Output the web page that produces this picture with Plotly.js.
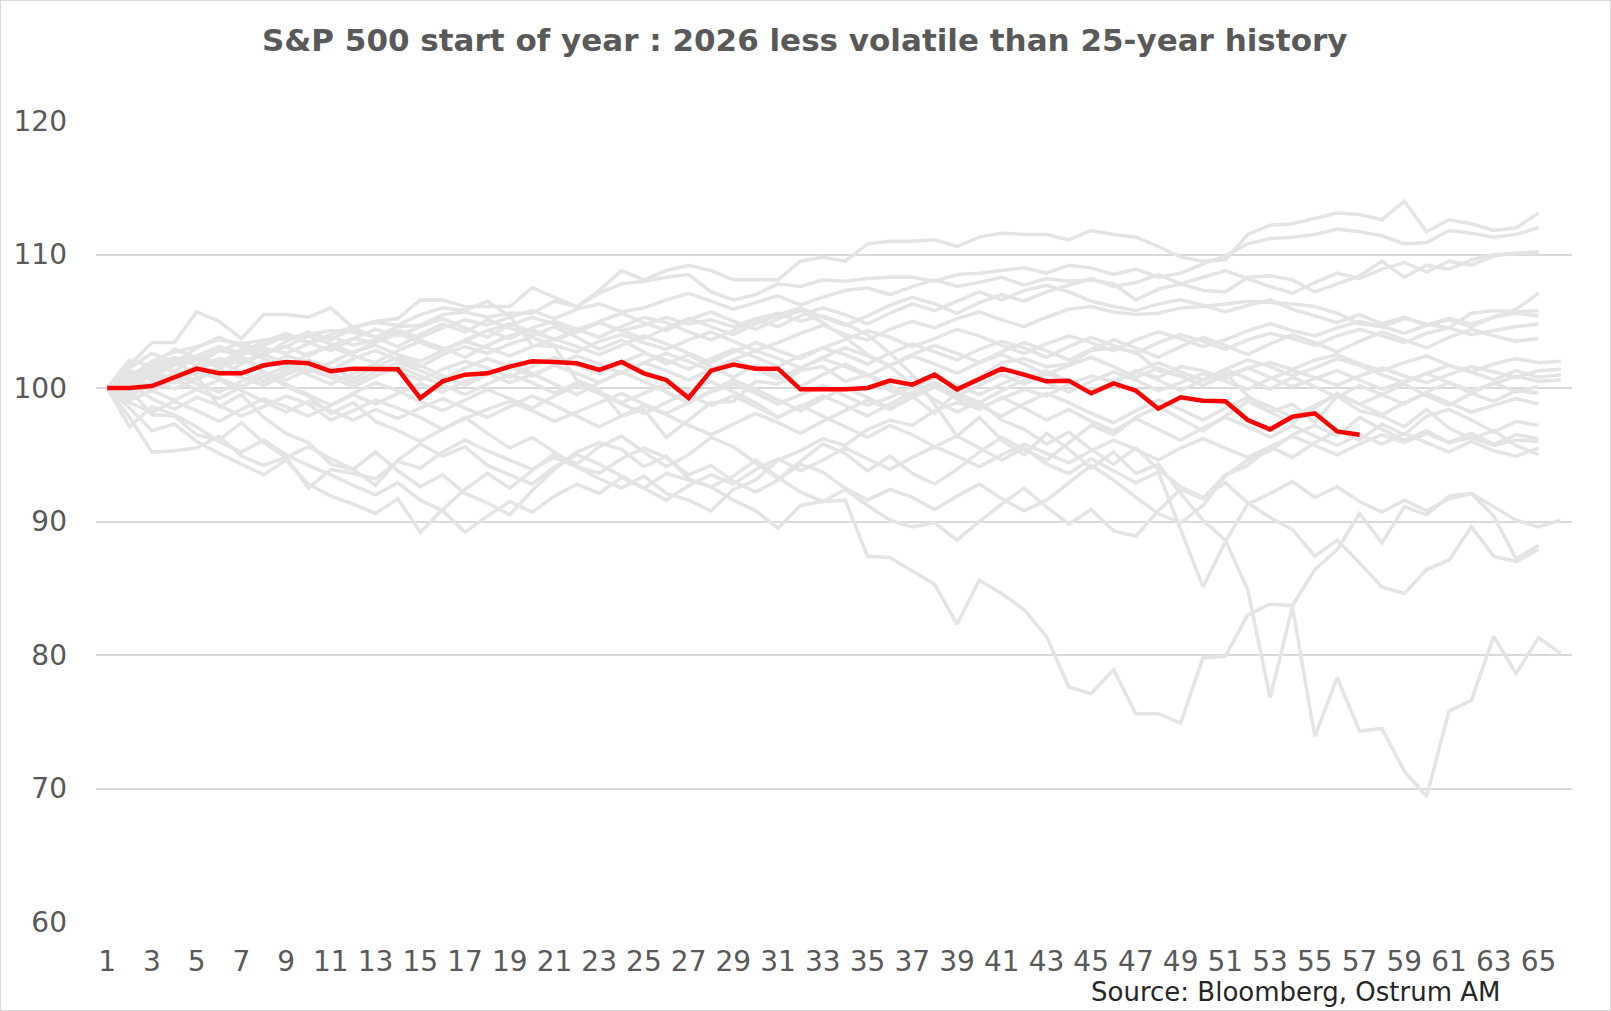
<!DOCTYPE html>
<html><head><meta charset="utf-8">
<script src="https://cdn.plot.ly/plotly-3.0.1.min.js"></script>
<style>html,body{margin:0;padding:0;background:#fff}#chart{width:1611px;height:1011px;box-sizing:border-box;border:1px solid #d9d9d9}</style>
</head><body><div id="chart"></div><script>
const days = [1,2,3,4,5,6,7,8,9,10,11,12,13,14,15,16,17,18,19,20,21,22,23,24,25,26,27,28,29,30,31,32,33,34,35,36,37,38,39,40,41,42,43,44,45,46,47,48,49,50,51,52,53,54,55,56,57,58,59,60,61,62,63,64,65,66];
const tickVals = [1,3,5,7,9,11,13,15,17,19,21,23,25,27,29,31,33,35,37,39,41,43,45,47,49,51,53,55,57,59,61,63,65];
const tickText = ['1','3','5','7','9','11','13','15','17','19','21','23','25','27','29','31','33','35','37','39','41','43','45','47','49','51','53','55','57','59','61','63','65'];
const yTicks = [60,70,80,90,100,110,120];

const y2026 = [100.0,100.0,100.15,100.8,101.45,101.1,101.1,101.7,101.95,101.85,101.25,101.45,101.4,101.4,99.25,100.5,101.0,101.1,101.6,102.0,101.95,101.85,101.35,101.95,101.1,100.6,99.25,101.3,101.75,101.45,101.45,99.9,99.9,99.9,100.0,100.55,100.25,101.0,99.9,100.65,101.45,101.0,100.5,100.55,99.6,100.35,99.8,98.45,99.3,99.05,99.0,97.6,96.9,97.85,98.1,96.75,96.5];

const path01 = [100,101.7,103.4,103.4,105.7,105.0,103.7,105.5,105.5,105.3,106.0,104.5,105.0,105.2,106.6,106.6,106.1,106.1,106.1,107.5,106.8,106.1,107.3,108.8,108.1,108.8,109.2,108.8,108.1,108.1,108.1,109.5,109.8,109.5,110.8,111.0,111.0,111.1,110.6,111.3,111.6,111.5,111.5,111.1,111.8,111.5,111.3,110.6,109.8,109.5,109.6,111.5,112.2,112.3,112.7,113.1,113.0,112.6,114.0,111.7,112.6,112.3,111.8,112.0,113.1];
const path02 = [100,100.8,102.0,102.7,103.1,103.6,103.3,103.6,103.7,104.0,104.3,104.2,103.8,104.6,104.7,105.5,105.7,105.3,105.6,105.6,106.5,106.1,107.1,107.8,108.0,108.3,108.5,107.2,106.6,107.0,107.8,107.6,108.1,108.0,108.2,108.3,108.3,108.0,108.5,108.6,108.8,109.0,108.6,109.2,109.0,108.5,108.9,108.3,108.6,109.3,109.9,110.8,111.2,111.3,111.5,111.9,111.7,111.4,110.8,110.9,111.8,111.6,111.3,111.5,112.0];
const path03 = [100,100.4,101.2,101.8,102.2,101.6,102.5,103.0,102.6,103.3,103.9,103.2,103.6,104.3,103.8,104.5,105.1,104.7,105.3,105.8,105.2,105.9,106.3,105.7,106.0,106.6,107.1,106.5,105.9,106.4,106.9,106.2,106.8,107.3,107.5,107.0,107.6,108.1,107.6,107.9,108.3,107.7,108.2,108.0,108.1,107.8,106.6,107.4,107.8,107.3,107.2,108.3,108.4,108.1,107.2,107.8,108.4,109.5,108.3,109.2,108.9,109.6,110.0,110.1,110.2];
const path04 = [100,101.1,100.6,101.9,102.4,101.8,102.9,102.2,101.5,102.6,103.1,102.4,101.9,102.8,103.5,103.0,102.3,103.2,103.9,104.4,103.6,104.2,104.9,104.3,103.7,104.5,105.2,104.6,104.0,104.8,105.5,106.0,105.3,104.7,105.4,106.2,106.8,106.3,105.6,106.4,107.0,106.5,107.2,107.7,108.2,107.6,107.9,108.5,107.8,108.3,108.8,108.2,107.6,107.1,107.9,108.6,108.2,108.9,109.4,108.7,109.5,109.2,109.9,110.1,110.1];
const path05 = [100,100.9,101.6,102.3,101.7,102.8,103.4,102.7,103.1,103.9,103.3,102.6,103.5,104.1,103.4,102.8,103.6,104.3,103.7,104.5,105.0,104.4,103.8,104.6,105.3,104.9,104.2,103.6,104.3,105.1,104.6,105.4,106.0,105.5,104.8,105.6,106.3,105.8,106.5,107.2,106.6,107.3,107.7,107.2,106.5,106.1,105.8,106.3,106.6,106.2,105.7,106.2,106.6,105.9,105.4,104.9,105.5,104.8,105.3,104.7,105.1,104.6,105.3,105.9,107.1];
const path06 = [100,99.4,100.3,101.1,100.6,101.5,102.1,101.6,102.4,102.0,101.3,102.2,102.8,102.1,101.6,102.5,103.1,102.6,103.3,103.8,103.2,102.7,103.5,104.0,103.4,102.9,103.6,104.2,103.5,102.8,103.4,104.1,104.7,104.0,103.6,104.4,105.0,104.5,105.2,105.7,105.1,104.6,105.3,105.9,106.1,105.7,105.5,105.6,106.0,106.1,106.3,106.5,106.4,106.3,106.1,105.6,104.8,104.6,105.2,104.8,104.5,105.6,105.8,105.7,105.8];
const path07 = [100,100.6,99.9,100.8,101.5,100.9,101.8,102.5,101.9,101.2,101.9,102.7,103.2,102.5,102.0,102.8,103.5,103.0,102.4,103.1,103.7,103.1,102.5,103.2,103.9,103.3,102.6,101.9,102.7,103.4,102.8,102.2,103.0,103.6,104.3,103.8,103.1,103.7,104.4,103.9,103.2,102.6,103.3,103.9,103.4,102.8,103.6,104.2,103.7,103.1,103.6,104.3,104.8,104.3,103.9,104.5,105.0,104.6,104.1,104.7,105.2,104.8,105.3,105.6,105.4];
const path08 = [100,100.2,101.0,100.4,101.2,100.7,100.1,100.9,101.6,101.0,100.3,101.1,101.8,101.2,100.6,101.4,102.0,101.5,100.8,101.6,102.3,101.7,101.1,101.9,102.6,102.1,101.4,102.2,102.9,102.3,101.6,102.4,103.0,102.5,101.8,102.6,103.3,102.7,102.1,102.9,103.5,103.0,102.3,103.1,103.8,103.2,102.6,103.4,104.0,103.5,102.9,103.6,104.1,103.7,103.2,103.9,104.4,103.9,103.4,104.1,104.5,104.0,104.3,104.6,104.8];
const path09 = [100,101.3,100.8,99.9,100.7,101.4,100.8,100.2,101.0,101.7,101.1,100.4,101.2,101.9,101.3,100.6,101.5,102.2,101.6,100.9,101.7,102.4,101.8,101.1,101.9,102.6,102.0,101.3,102.1,102.8,102.2,101.5,102.3,103.0,102.4,101.7,102.5,103.2,102.6,101.9,102.7,103.4,102.8,102.1,102.9,103.6,103.0,102.3,103.1,103.8,103.2,102.5,103.3,104.0,103.4,102.7,103.5,104.2,103.6,103.0,103.8,104.4,103.9,103.5,103.7];
const path10 = [100,97.8,95.2,95.3,95.5,96.4,94.9,94.2,94.8,92.5,93.9,93.6,93.2,94.5,94.0,95.2,96.1,95.3,94.6,93.9,94.8,94.1,93.2,92.5,93.4,92.1,91.6,90.8,92.4,93.1,94.6,95.3,96.2,95.7,96.9,97.6,97.2,98.3,98.9,98.5,99.2,99.9,99.4,100.3,100.9,100.5,101.2,100.8,101.6,101.3,100.7,101.5,101.9,101.4,102.1,102.5,101.8,101.3,101.9,102.4,101.7,101.2,101.8,102.2,101.9,102.0];
const path11 = [100,100.3,99.2,98.4,99.3,98.7,97.9,98.6,99.4,98.8,97.6,98.3,99.1,98.5,97.8,96.9,97.7,98.4,99.0,98.3,97.5,98.2,98.9,99.6,98.8,98.1,98.9,99.7,100.3,99.6,98.8,99.5,100.2,99.4,98.7,99.3,100.1,100.8,100.2,99.5,100.3,101.0,100.4,99.7,100.5,101.2,100.6,99.8,100.4,101.1,100.5,99.9,100.7,101.3,100.8,100.2,100.9,101.5,100.9,100.4,101.0,101.6,101.2,100.8,101.3,101.4];
const path12 = [100,99.1,99.8,100.6,99.9,99.2,100.1,100.9,100.3,99.5,98.7,99.6,100.4,99.8,99.0,98.3,99.1,99.9,99.2,98.5,99.4,100.2,99.6,98.8,98.1,98.9,99.8,100.5,99.7,98.9,97.8,98.6,99.4,98.7,97.9,98.8,99.7,100.4,99.6,98.9,99.8,100.6,101.3,100.5,99.7,100.4,101.2,101.9,101.2,100.6,101.4,102.1,101.6,100.9,101.5,102.2,101.7,101.0,100.4,101.1,101.7,101.2,100.6,101.3,100.8,101.0];
const path13 = [100,98.9,98.2,99.0,98.3,97.5,98.4,99.2,98.6,97.9,98.7,99.5,98.8,99.6,100.3,99.7,100.5,101.1,100.4,101.0,101.7,101.1,100.4,101.2,101.9,101.3,100.6,101.4,102.1,101.4,100.7,101.5,102.2,101.6,100.9,101.7,102.4,101.8,101.1,101.9,102.5,101.8,101.0,101.7,102.3,101.6,100.8,101.5,100.9,100.2,100.9,101.5,100.8,100.1,100.7,101.3,100.6,99.9,100.5,101.1,100.4,99.8,100.3,100.9,100.5,100.6];
const path14 = [100,98.5,96.8,97.3,96.0,95.1,94.3,93.5,94.6,92.8,91.9,91.3,90.6,91.7,89.2,90.9,92.4,93.6,92.5,93.8,95.1,94.3,95.6,96.4,95.2,94.1,95.0,96.3,95.6,94.4,93.2,94.5,95.8,95.1,93.8,94.9,93.6,92.8,93.9,95.2,96.3,95.4,94.6,95.9,97.2,96.5,97.8,98.6,97.7,96.8,97.9,99.0,98.2,97.4,98.5,99.6,98.8,99.5,100.3,99.4,98.7,99.6,100.4,99.7,100.1];
const path15 = [100,100.7,101.3,100.6,101.4,102.0,101.2,100.5,101.3,102.1,101.5,100.7,101.6,102.3,101.7,100.9,100.2,101.0,101.8,101.1,100.3,99.5,100.4,101.2,100.5,99.7,98.9,99.8,100.6,99.9,99.1,98.3,99.2,100.0,99.3,98.5,99.4,100.2,99.5,98.7,97.9,98.8,99.6,98.9,98.1,97.4,98.3,99.1,98.4,97.6,98.5,99.3,98.6,97.8,98.7,99.5,98.8,98.0,98.9,99.6,98.9,98.2,98.7,99.2,98.8];
const path16 = [100,99.9,98.0,97.9,96.5,96.1,97.4,95.9,94.8,95.6,94.7,93.9,95.2,93.8,92.6,93.5,92.1,91.4,90.5,92.3,93.9,95.2,95.9,95.4,94.1,94.9,93.2,92.6,93.4,94.6,93.3,92.2,91.5,92.4,91.2,90.1,89.6,89.9,88.6,90.0,91.3,92.5,91.1,89.8,90.9,89.3,88.9,90.8,92.4,91.7,93.5,94.2,95.6,94.8,95.9,96.8,96.1,97.3,96.5,97.9,98.4,97.6,96.7,97.5,97.2];
const path17 = [100,102.1,101.6,102.9,102.3,101.5,102.4,101.2,100.1,99.4,98.1,98.9,97.5,96.8,96.0,96.9,97.8,96.6,95.5,96.3,95.2,94.1,93.6,94.7,95.5,94.8,93.5,94.2,93.0,92.2,93.1,94.3,93.7,92.5,91.6,92.4,91.8,90.9,91.9,92.8,91.7,90.8,91.6,92.9,94.2,93.1,91.8,90.6,89.9,91.2,93.4,94.6,95.3,96.5,97.2,96.4,97.8,96.9,96.1,96.8,95.9,96.6,95.8,96.5,96.2];
const path18 = [100,101.5,102.6,101.9,103.0,103.8,103.1,102.4,103.5,104.2,103.6,104.5,103.8,103.1,104.0,104.8,104.2,105.1,104.5,103.9,104.6,103.8,102.9,103.6,102.7,101.8,102.5,101.6,100.8,101.7,100.9,100.1,101.0,101.8,101.0,100.2,99.3,100.1,99.2,98.4,99.3,98.5,97.6,98.4,97.5,96.8,97.7,96.9,96.1,97.0,97.8,97.1,96.3,97.2,96.4,95.7,96.5,95.8,96.6,95.9,95.2,96.0,95.3,94.9,95.5];
const path19 = [100,100.6,101.0,101.7,102.1,102.8,102.5,103.2,103.9,103.4,104.0,104.6,104.9,104.7,105.5,106.0,105.8,106.5,105.4,103.2,103.1,100.6,99.9,97.9,98.4,96.3,97.6,98.9,99.0,100.5,100.3,101.3,101.6,100.5,101.0,99.8,99.4,98.1,99.7,100.8,101.9,102.2,101.6,101.8,102.8,103.0,102.7,101.3,100.9,100.2,101.1,99.4,98.2,98.8,97.4,99.4,98.3,97.9,97.1,98.4,97.0,96.2,96.8,95.7,95.0];
const path20 = [100,99.2,101.4,102.1,100.9,98.6,99.5,97.8,96.6,95.9,94.3,93.9,92.7,94.6,95.8,94.9,95.6,94.2,93.5,92.8,94.1,95.0,94.3,93.4,92.5,93.6,93.1,92.6,91.6,90.8,89.5,91.2,91.5,91.6,87.4,87.3,86.3,85.3,82.3,85.6,84.6,83.4,81.4,77.6,77.1,78.9,75.6,75.6,74.9,79.8,79.9,83.0,83.8,83.7,86.4,87.9,90.6,88.4,91.1,90.5,91.9,92.1,91.1,90.1,89.6,90.1];
const path21 = [100,100.9,101.8,101.2,102.4,103.1,102.6,103.5,104.1,103.4,102.8,103.7,104.4,103.9,104.6,105.2,104.5,103.8,104.7,105.3,104.8,104.2,105.0,105.6,104.9,104.3,105.1,105.7,105.0,104.4,105.2,105.8,104.9,103.8,102.5,101.6,100.3,99.1,98.2,99.0,97.6,96.9,95.8,96.7,95.4,94.3,95.5,93.9,92.6,91.8,92.9,91.4,90.3,89.4,87.4,88.6,86.9,85.1,84.6,86.4,87.1,89.6,87.4,87.0,87.9];
const path22 = [100,99.6,100.4,101.0,100.3,99.7,100.5,101.2,100.6,101.4,100.8,100.1,100.9,101.6,100.9,100.2,99.5,100.3,101.0,100.4,99.6,100.4,99.7,98.9,99.6,100.3,99.5,98.7,99.4,98.6,97.8,98.7,97.9,97.1,96.3,97.2,96.5,95.6,96.4,95.5,94.6,95.5,94.3,93.6,94.7,93.8,92.9,93.7,89.4,85.1,88.5,91.3,92.1,93.0,91.8,92.6,91.5,90.7,91.6,90.8,91.7,92.1,90.4,87.2,88.2];
const path23 = [100,100.7,100.2,101.0,101.6,102.2,101.9,102.6,103.1,102.4,103.2,103.7,103.4,104.1,103.6,102.9,103.5,104.3,104.8,104.2,103.6,104.4,104.9,104.3,104.7,105.3,104.8,105.1,104.6,105.2,105.6,105.0,105.4,104.8,104.0,102.6,101.0,98.8,96.4,97.8,96.1,95.0,96.6,95.4,94.0,95.2,93.6,94.3,92.1,90.1,88.6,84.9,76.8,83.6,73.9,78.3,74.3,74.5,71.3,69.4,75.8,76.6,81.4,78.6,81.3,80.1];
const path24 = [100,100.5,99.8,99.1,99.9,100.6,99.8,99.0,98.2,99.0,98.3,97.6,98.4,97.7,98.5,99.2,98.5,97.8,98.6,99.4,98.7,97.9,97.1,97.9,98.7,98.0,97.2,96.5,97.3,98.1,97.4,96.6,97.5,98.3,99.1,98.4,99.3,100.1,99.4,100.2,101.0,100.3,101.1,100.4,99.6,100.5,101.3,100.6,99.8,100.6,101.4,100.7,99.9,100.8,100.1,99.3,100.2,99.5,98.8,99.7,100.4,99.6,99.0,99.8,99.6];
const path25 = [100,97.1,98.6,98.0,97.1,96.0,95.2,96.1,95.0,94.2,93.5,92.7,92.0,92.9,91.6,90.8,89.2,90.4,91.5,90.7,91.9,92.8,92.1,93.3,92.5,91.6,92.7,93.5,92.8,93.9,94.7,93.8,94.6,95.5,94.7,93.9,94.8,95.6,94.9,94.1,95.0,95.8,95.1,94.4,95.3,96.1,95.4,94.6,95.5,96.2,95.5,94.8,95.6,96.4,95.7,95.0,95.8,96.5,95.9,96.6,95.9,96.3,95.7,96.1,96.0];

const history = [path01,path02,path03,path04,path05,path06,path07,path08,path09,path10,path11,path12,path13,path14,path15,path16,path17,path18,path19,path20,path21,path22,path23,path24,path25];

const traces = history.map(function (vals) {
  return {x: days.slice(0, vals.length), y: vals, type: 'scatter', mode: 'lines',
          line: {color: '#e4e4e4', width: 3.5}, hoverinfo: 'skip', showlegend: false};
});
traces.push({x: days.slice(0, y2026.length), y: y2026, type: 'scatter', mode: 'lines',
             line: {color: '#ff0000', width: 4.5}, hoverinfo: 'skip', showlegend: false});

const layout = {
  width: 1609, height: 1009,
  margin: {l: 95, r: 38, t: 120, b: 88, pad: 0},
  paper_bgcolor: '#ffffff', plot_bgcolor: '#ffffff',
  title: {text: 'S&P 500 start of year : 2026 less volatile than 25-year history',
          font: {family: 'DejaVu Sans, sans-serif', size: 31, color: '#595959', weight: 700},
          x: 0.4995, xanchor: 'center', xref: 'container', y: 0.9613, yanchor: 'middle', yref: 'container'},
  xaxis: {range: [0.5, 66.5], tickmode: 'array', tickvals: tickVals, ticktext: tickText,
          showgrid: false, zeroline: false, showline: false, ticks: '',
          tickfont: {family: 'DejaVu Sans, sans-serif', size: 28, color: '#595959'},
          ticklabelstandoff: 20, fixedrange: true},
  yaxis: {range: [60, 120], tickmode: 'array', tickvals: yTicks,
          showgrid: true, gridcolor: '#d9d9d9', gridwidth: 2, zeroline: false, showline: false, ticks: '',
          tickfont: {family: 'DejaVu Sans, sans-serif', size: 28, color: '#595959'},
          ticklabelstandoff: 28, fixedrange: true},
  annotations: [{text: 'Source: Bloomberg, Ostrum AM', xref: 'paper', yref: 'paper',
                 x: 0.9525, xanchor: 'right', y: -0.0874, yanchor: 'middle', showarrow: false,
                 font: {family: 'DejaVu Sans, sans-serif', size: 26, color: '#262626'}}],
  showlegend: false, hovermode: false
};

Plotly.newPlot('chart', traces, layout, {staticPlot: true, displayModeBar: false});
</script></body></html>
